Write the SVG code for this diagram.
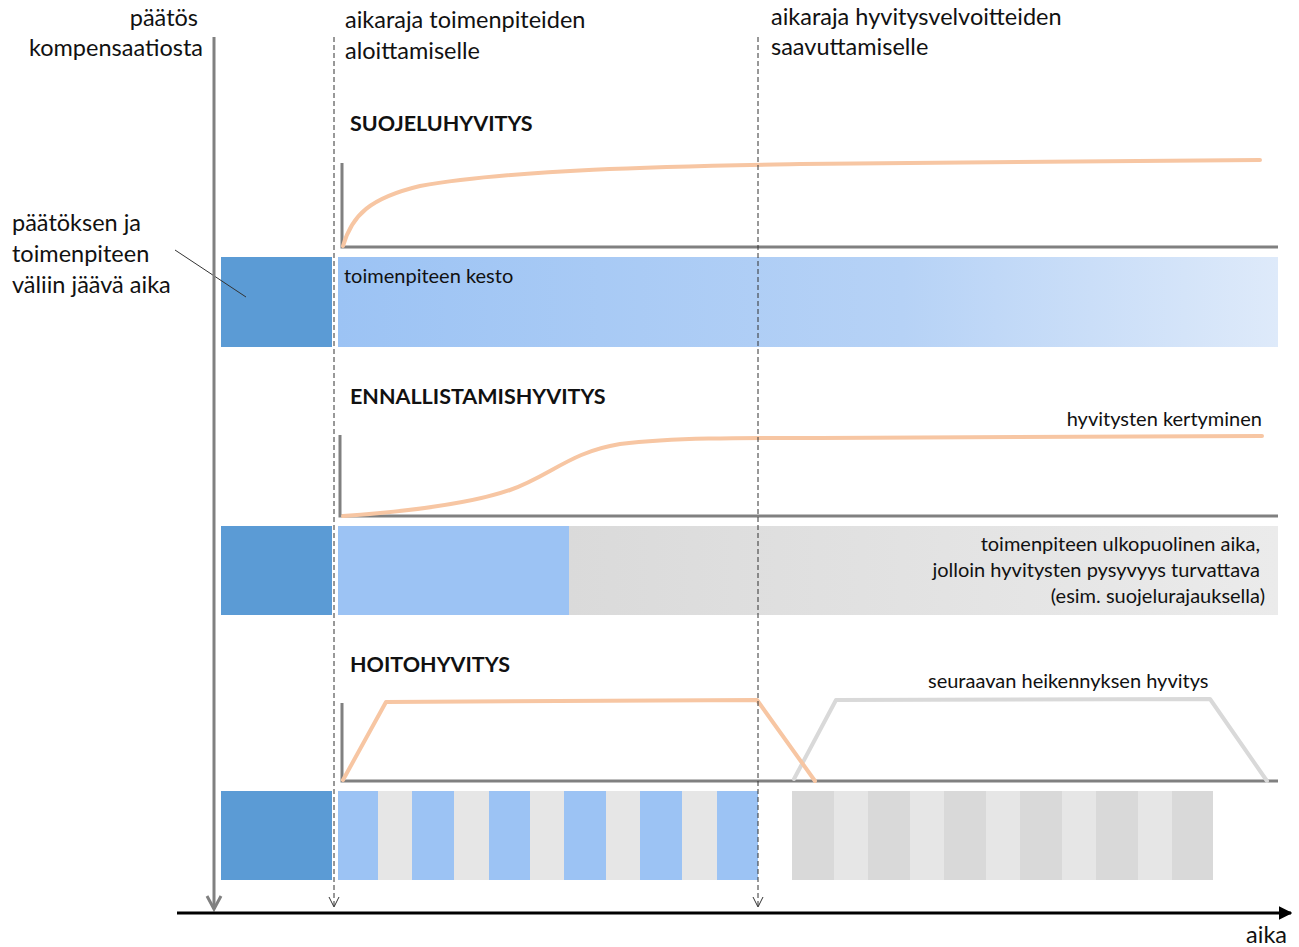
<svg xmlns="http://www.w3.org/2000/svg" width="1299" height="947" viewBox="0 0 1299 947">
  <defs>
    <linearGradient id="gradKesto" x1="0" y1="0" x2="1" y2="0">
      <stop offset="0" stop-color="#9CC3F4"/>
      <stop offset="0.6" stop-color="#B6D2F6"/>
      <stop offset="1" stop-color="#DEEAFA"/>
    </linearGradient>
    <linearGradient id="gradUlko" x1="0" y1="0" x2="1" y2="0">
      <stop offset="0" stop-color="#DADADA"/>
      <stop offset="1" stop-color="#EBEBEB"/>
    </linearGradient>
    <marker id="headBlack" viewBox="0 0 10 10" refX="9" refY="5" markerWidth="4.5" markerHeight="4.5" orient="auto">
      <path d="M0,0 L10,5 L0,10 Z" fill="#000"/>
    </marker>
  </defs>
  <style>
    text { font-family: Lato, "Liberation Sans", sans-serif; fill: #111; }
    .lbl { font-size: 23.5px; }
    .sm { font-size: 20px; }
    .ttl { font-size: 21.5px; font-weight: bold; }
    .axis { stroke: #808080; stroke-width: 3; fill: none; }
    .curve { stroke: #F7C6A3; stroke-width: 4; fill: none; stroke-linejoin: round; stroke-linecap: round; }
    .curve2 { stroke: #D9D9D9; stroke-width: 4; fill: none; stroke-linejoin: round; stroke-linecap: round; }
    .dash { stroke: #333; stroke-width: 1; stroke-dasharray: 5 3; fill: none; }
    .vhead { stroke: #333; stroke-width: 1; fill: none; }
    .wait { fill: #5B9BD5; }
    .act { fill: #9CC3F4; }
    .gap { fill: #E6E6E6; }
    .next { fill: #D9D9D9; }
  </style>

  <!-- headings along the top -->
  <g id="lbl-paatos">
    <text class="lbl" x="198" y="26" text-anchor="end">päätös</text>
    <text class="lbl" x="203" y="56" text-anchor="end">kompensaatiosta</text>
  </g>
  <g id="lbl-aloitus">
    <text class="lbl" x="345" y="28">aikaraja toimenpiteiden</text>
    <text class="lbl" x="345" y="59">aloittamiselle</text>
  </g>
  <g id="lbl-saavutus">
    <text class="lbl" x="771" y="25">aikaraja hyvitysvelvoitteiden</text>
    <text class="lbl" x="771" y="55">saavuttamiselle</text>
  </g>

  <!-- panel 1: protection -->
  <g id="suojeluhyvitys">
    <text class="ttl" x="350" y="131">SUOJELUHYVITYS</text>
    <path class="axis" d="M342,163 V247 H1278"/>
    <path class="curve" d="M343,246 C352,215 370,198 420,186 C520,168 700,166 800,164 C950,162 1100,161 1260,160"/>
    <rect class="wait" x="221" y="257" width="111" height="90"/>
    <rect x="338" y="257" width="940" height="90" fill="url(#gradKesto)"/>
    <text class="sm" x="344" y="283">toimenpiteen kesto</text>
  </g>

  <!-- label for the waiting period, with its leader line over the box -->
  <g id="lbl-vali">
    <text class="lbl" x="12" y="231">päätöksen ja</text>
    <text class="lbl" x="12" y="262">toimenpiteen</text>
    <text class="lbl" x="12" y="293">väliin jäävä aika</text>
    <line x1="175" y1="250" x2="246" y2="297" stroke="#333" stroke-width="1"/>
  </g>

  <!-- panel 2: restoration -->
  <g id="ennallistamishyvitys">
    <text class="ttl" x="350" y="404">ENNALLISTAMISHYVITYS</text>
    <path class="axis" d="M340,435 V516 H1278"/>
    <path class="curve" d="M343,516 C400,512 470,504 510,490 C550,476 570,452 620,444 C680,437 760,438 820,438 C1000,437 1150,436 1262,436"/>
    <text class="sm" x="1262" y="426" text-anchor="end">hyvitysten kertyminen</text>
    <rect class="wait" x="221" y="526" width="111" height="89"/>
    <rect class="act" x="338" y="526" width="231" height="89"/>
    <rect x="569" y="526" width="709" height="89" fill="url(#gradUlko)"/>
    <text class="sm" x="1260" y="551" text-anchor="end">toimenpiteen ulkopuolinen aika,</text>
    <text class="sm" x="1260" y="577" text-anchor="end">jolloin hyvitysten pysyvyys turvattava</text>
    <text class="sm" x="1265" y="603" text-anchor="end">(esim. suojelurajauksella)</text>
  </g>

  <!-- panel 3: maintenance -->
  <g id="hoitohyvitys">
    <text class="ttl" x="350" y="672">HOITOHYVITYS</text>
    <path class="axis" d="M342,703 V781 H1278"/>
    <path class="curve2" d="M794,779 L836,700 L1210,699 L1267,781"/>
    <path class="curve" d="M343,780 L386,702 L757,700 L815,781"/>
    <text class="sm" x="928" y="688">seuraavan heikennyksen hyvitys</text>
    <rect class="wait" x="221" y="791" width="111" height="89"/>
    <g id="hoito-jaksot">
      <rect class="act" x="338" y="791" width="40" height="89"/>
      <rect class="gap" x="378" y="791" width="34" height="89"/>
      <rect class="act" x="412" y="791" width="42" height="89"/>
      <rect class="gap" x="454" y="791" width="35" height="89"/>
      <rect class="act" x="489" y="791" width="41" height="89"/>
      <rect class="gap" x="530" y="791" width="34" height="89"/>
      <rect class="act" x="564" y="791" width="42" height="89"/>
      <rect class="gap" x="606" y="791" width="34" height="89"/>
      <rect class="act" x="640" y="791" width="42" height="89"/>
      <rect class="gap" x="682" y="791" width="35" height="89"/>
      <rect class="act" x="717" y="791" width="41" height="89"/>
    </g>
    <g id="seuraava-jaksot">
      <rect class="next" x="792" y="791" width="42" height="89"/>
      <rect class="gap" x="834" y="791" width="34" height="89"/>
      <rect class="next" x="868" y="791" width="42" height="89"/>
      <rect class="gap" x="910" y="791" width="34" height="89"/>
      <rect class="next" x="944" y="791" width="42" height="89"/>
      <rect class="gap" x="986" y="791" width="34" height="89"/>
      <rect class="next" x="1020" y="791" width="42" height="89"/>
      <rect class="gap" x="1062" y="791" width="34" height="89"/>
      <rect class="next" x="1096" y="791" width="42" height="89"/>
      <rect class="gap" x="1138" y="791" width="34" height="89"/>
      <rect class="next" x="1172" y="791" width="41" height="89"/>
    </g>
  </g>

  <!-- time markers and the time axis -->
  <g id="connectors">
    <line x1="214" y1="37" x2="214" y2="909" stroke="#808080" stroke-width="3"/>
    <path d="M207,896 L214,909 L221,896" stroke="#808080" stroke-width="3" fill="none"/>
    <line class="dash" x1="334" y1="37" x2="334" y2="907"/>
    <path class="vhead" d="M329,897 L334,907 L339,897"/>
    <line class="dash" x1="758" y1="37" x2="758" y2="907"/>
    <path class="vhead" d="M753,897 L758,907 L763,897"/>
    <line x1="177" y1="913" x2="1291" y2="913" stroke="#000" stroke-width="3" marker-end="url(#headBlack)"/>
    <text class="lbl" x="1287" y="943" text-anchor="end">aika</text>
  </g>
</svg>
